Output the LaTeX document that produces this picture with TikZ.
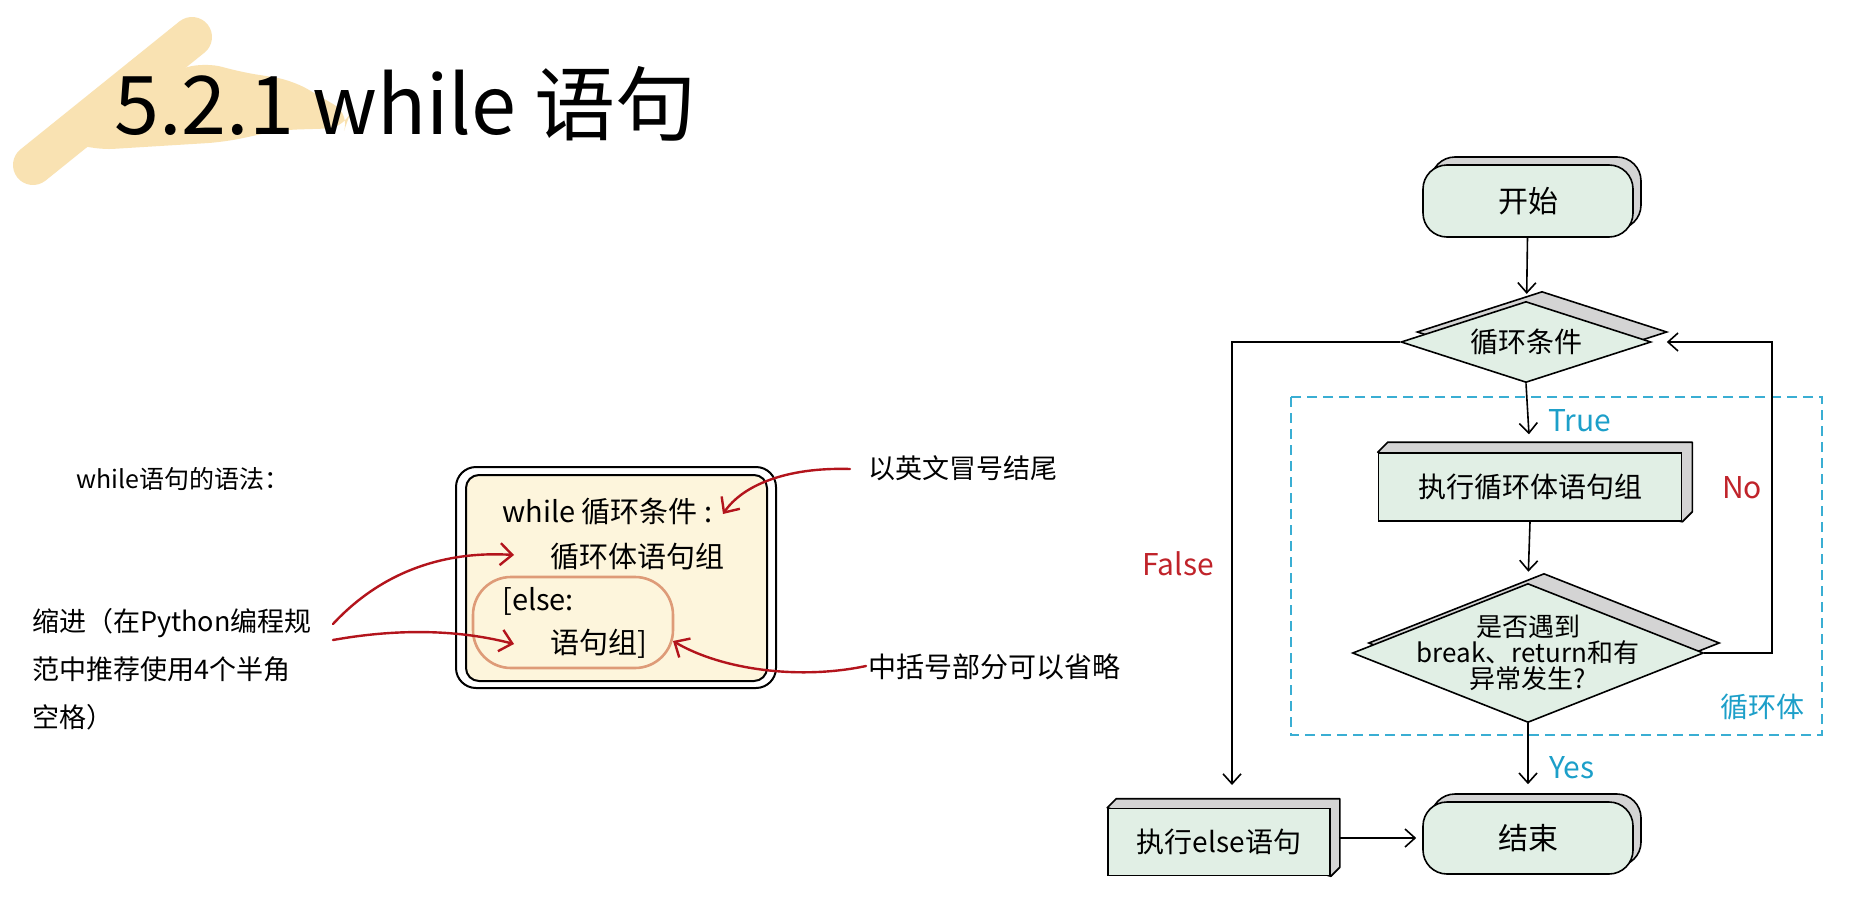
\documentclass[tikz,border=0pt]{standalone}
\usepackage{fontspec}
\setmainfont{Noto Sans CJK SC}
\usetikzlibrary{arrows.meta,shapes.geometric,shadows,calc}
\pgfdeclarelayer{background}
\pgfsetlayers{background,main}

\definecolor{boxfill}{HTML}{E1EFE5}
\definecolor{depthgray}{HTML}{D4D4D4}
\definecolor{codefill}{HTML}{FDF5DC}
\definecolor{elsering}{HTML}{DE9B78}
\definecolor{notered}{HTML}{B3141C}
\definecolor{redtext}{HTML}{C0232A}
\definecolor{cyantext}{HTML}{1C9FC9}
\definecolor{loopdash}{HTML}{3AAED3}
\definecolor{brush}{HTML}{F9E2B2}

\newcommand{\fsz}[1]{\fontsize{#1}{#1}\selectfont}

\begin{document}
\begin{tikzpicture}[x=1pt,y=-1pt,
  flow/.style={draw=black,line width=1.6pt},
  arr/.style={flow,-{Straight Barb[length=10pt,width=18pt]}},
  notearr/.style={draw=notered,line width=2.4pt,line cap=round,
    -{Straight Barb[length=12pt,width=22pt]}},
  terminal/.style={flow,fill=boxfill,rounded corners=24pt,
    minimum width=210pt,minimum height=72pt,inner sep=0pt,font=\fsz{30},
    copy shadow={shadow xshift=8pt,shadow yshift=8pt,fill=depthgray,
      draw=black,line width=1.6pt}},
  process/.style={flow,fill=boxfill,inner sep=0pt,font=\fsz{28}},
  decision/.style={flow,fill=boxfill,diamond,inner sep=0pt,
    copy shadow={shadow xshift=16pt,shadow yshift=10pt,fill=depthgray,
      draw=black,line width=1.6pt}},
  dtext/.style={font=\fsz{26},align=center},
  codetext/.style={anchor=base west,inner sep=0pt,font=\fsz{29}},
  plaintext/.style={anchor=base west,inner sep=0pt},
  flowlabel/.style={anchor=base west,inner sep=0pt,font=\fsz{30}},
]
\useasboundingbox (0,0) rectangle (1857,899);

% ---------- title ----------
\node[plaintext,font=\fsz{81}] (title) at (114,134) {5.2.1 while 语句};

% ---------- syntax notes on the left ----------
\node[plaintext,font=\fsz{25}] (syntax) at (76,488) {while语句的语法：};
\node[plaintext,font=\fontsize{27}{48}\selectfont,align=left] (indent) at (32,727)
  {缩进（在Python编程规\\范中推荐使用4个半角\\空格）};

% code frame
\node[draw=black,line width=2pt,fill=white,rounded corners=20pt,
  minimum width=320pt,minimum height=221pt,inner sep=0pt] (codeouter) at (616,577.5) {};
\node[draw=black,line width=2pt,fill=codefill,rounded corners=13pt,
  minimum width=301pt,minimum height=206pt,inner sep=0pt] (codeinner) at (616.5,578) {};
\node[draw=elsering,line width=2.6pt,fill=codefill,rounded corners=38pt,
  minimum width=200pt,minimum height=91pt,inner sep=0pt] (elsering) at (573,622.5) {};

\node[codetext] (cline1) at (502,522) {while 循环条件 :};
\node[codetext] (cline2) at (550,567) {循环体语句组};
\node[codetext] (cline3) at (502,610) {[else:};
\node[codetext] (cline4) at (550,653) {语句组]};

\node[plaintext,font=\fsz{27}] (colonnote) at (868,478) {以英文冒号结尾};
\node[plaintext,font=\fsz{28}] (bracketnote) at (868,677) {中括号部分可以省略};

% arrow end points of the notes
\coordinate (colonfrom) at (850,469);
\coordinate (colonto) at (723,514);
\coordinate (indentfromA) at (333,624);
\coordinate (indentfromB) at (333,640);
\coordinate (bodyto) at (514,555);
\coordinate (groupto) at (514,644);
\coordinate (bracketfrom) at (866,666);
\coordinate (bracketto) at (673,641);

\draw[notearr] (colonfrom) .. controls (785,467) and (742,486) .. (colonto);
\draw[notearr] (indentfromA) .. controls (385,568) and (450,551) .. (bodyto);
\draw[notearr] (indentfromB) .. controls (400,628) and (460,630) .. (groupto);
\draw[notearr] (bracketfrom) .. controls (800,680) and (722,670) .. (bracketto);

% ---------- flowchart ----------
\draw[loopdash,line width=1.8pt,dash pattern=on 10pt off 6pt]
  (1291,397) rectangle (1822,735);

\node[terminal] (start) at (1528,201) {开始};
\node[decision,minimum width=250pt,minimum height=81pt,
  label={[dtext,font=\fsz{28}]center:循环条件}] (cond) at (1526,342) {};
\node[process,minimum width=303pt,minimum height=68pt] (body) at (1530,487) {执行循环体语句组};
\node[decision,minimum width=351pt,minimum height=139pt,
  label={[dtext]center:是否遇到\\break、return和有\\异常发生?}] (brk) at (1528,653) {};
\node[terminal] (finish) at (1528,838) {结束};
\node[process,minimum width=222pt,minimum height=67pt] (elsebox) at (1219,842) {执行else语句};

\begin{pgfonlayer}{background}
  \fill[white] (0,0) rectangle (1857,899);
  % brush stroke behind the title
  \draw[brush,line width=40pt,line cap=round] (33,165) -- (192,37);
  \fill[brush,rounded corners=18pt] (70,142) -- (150,78) -- (205,62) -- (240,72)
    -- (292,80) -- (350,114) -- (345,128) -- (280,130) -- (225,142) -- (95,150) -- cycle;
  % extruded faces of the process boxes
  \foreach \n/\d in {body/10,elsebox/9}{
    \filldraw[flow,fill=depthgray,line join=round]
      (\n.north west) -- ++(\d,-\d) -- ($(\n.north east)+(\d,-\d)$)
      -- ($(\n.south east)+(\d,-\d)$) -- (\n.south east) -- cycle;
  }
\end{pgfonlayer}

\coordinate (falsecorner) at (1232,342);
\coordinate (falsedown) at (1232,809);
\coordinate (nobottom) at (1772,653);
\coordinate (notop) at (1772,342);

\draw[arr,shorten >=7pt] (start) -- (cond);
\draw[arr,shorten >=18pt] (cond.south) -- (body.north);
\draw[arr,shorten >=11pt] (body.south) -- (brk.north);
\draw[arr,shorten >=17pt] (brk.south) -- (finish.north);
\draw[arr,shorten >=24pt] (cond.west) -- (falsecorner) -- (falsedown);
\draw[arr,shorten >=15pt] (brk.east) -- (nobottom) -- (notop) -- (cond.east);
\draw[arr,shorten <=8pt,shorten >=6pt] (elsebox.east |- finish.west) -- (finish.west);

\node[flowlabel,text=cyantext] (truelabel) at (1548,431) {True};
\node[flowlabel,text=redtext] (nolabel) at (1722,498) {No};
\node[flowlabel,text=redtext] (falselabel) at (1142,575) {False};
\node[flowlabel,text=cyantext] (yeslabel) at (1549,778) {Yes};
\node[flowlabel,text=cyantext,font=\fsz{28}] (looplabel) at (1720,717) {循环体};
\end{tikzpicture}
\end{document}
